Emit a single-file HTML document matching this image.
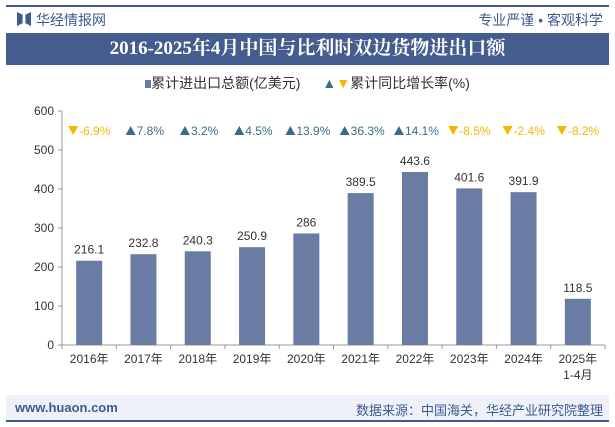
<!DOCTYPE html>
<html><head><meta charset="utf-8"><style>
body{margin:0;width:615px;height:427px;background:#fff;font-family:"Liberation Sans","Noto Sans CJK SC",sans-serif;overflow:hidden;position:relative}
.abs{position:absolute}
</style></head><body>
<div class="abs" style="left:6px;top:5px;width:603px;height:2px;background:#3f5a8e"></div>
<div class="abs" style="left:17px;top:12px;width:14px;height:14px;background:#3f5a8e;clip-path:polygon(0 0,40% 20%,40% 80%,0 100%,0 0,100% 0,100% 100%,60% 80%,60% 20%,100% 0)"></div>
<div class="abs" style="left:36px;top:10px;font-size:14px;color:#3f5a8e">华经情报网</div>
<div class="abs" style="right:12px;top:10px;font-size:14px;color:#3f5a8e">专业严谨 • 客观科学</div>
<div class="abs" style="left:6px;top:33px;width:603px;height:32px;background:#445c8e;color:#fff;font-family:'Liberation Serif','Noto Serif CJK SC',serif;font-weight:bold;font-size:19px;text-align:center;line-height:32px">2016-2025年4月中国与比利时双边货物进出口额</div>
<div class="abs" style="left:0;width:615px;top:73px;text-align:center;font-size:14px;color:#333">
<span><span style="display:inline-block;width:6px;height:8px;background:#6a7ca3"></span>累计进出口总额(亿美元)</span>
<span style="margin-left:18px"><span style="color:#3a6d8c">▲</span><span style="color:#f5b800">▼</span>累计同比增长率(%)</span></div>
<svg class="abs" style="left:0;top:0" width="615" height="427" id="chart"></svg>
<div class="abs" style="left:6px;top:395px;width:603px;height:26px;background:#eef1f7"></div>
<div class="abs" style="left:15px;top:400px;font-size:13px;color:#3f5a8e;font-weight:bold">www.huaon.com</div>
<div class="abs" style="right:12px;top:400px;font-size:13px;color:#3f5a8e">数据来源：中国海关，华经产业研究院整理</div>
<div class="abs" style="left:6px;top:420px;width:603px;height:2px;background:#3f5a8e"></div>
<script>
const categories=["2016年","2017年","2018年","2019年","2020年","2021年","2022年","2023年","2024年","2025年"];
const values=[216.1,232.8,240.3,250.9,286,389.5,443.6,401.6,391.9,118.5];
const valueLabels=["216.1","232.8","240.3","250.9","286","389.5","443.6","401.6","391.9","118.5"];
const growth=[-6.9,7.8,3.2,4.5,13.9,36.3,14.1,-8.5,-2.4,-8.2];
const yTicks=[0,100,200,300,400,500,600];
const svg=document.getElementById('chart');const NS='http://www.w3.org/2000/svg';
const x0=62,x1=605,yb=345,yt=111,ymax=600;
const band=(x1-x0)/categories.length;
const xc=i=>x0+band*(i+0.5);
const y=v=>yb-(v/ymax)*(yb-yt);
function mk(t,a,txt){const e=document.createElementNS(NS,t);for(const k in a)e.setAttribute(k,a[k]);if(txt!=null)e.textContent=txt;svg.appendChild(e);return e;}
let e=mk('line',{x1:x0,y1:yt,x2:x0,y2:yb,stroke:'#999'});

e=mk('line',{x1:x0,y1:yb,x2:x1,y2:yb,stroke:'#999'});

yTicks.forEach(t=>{
 let l=mk('line',{x1:x0-4,y1:y(t),x2:x0,y2:y(t),stroke:'#999'});
 
 let tx=mk('text',{x:x0-8,y:y(t)+4,'text-anchor':'end','font-size':12,fill:'#333'},t);
 
});
for(let i=0;i<=categories.length;i++){let l=mk('line',{x1:x0+band*i,y1:yb,x2:x0+band*i,y2:yb+4,stroke:'#999'});
 }
categories.forEach((c,i)=>{
 const cx=xc(i),bw=26;
 let r=mk('rect',{x:cx-bw/2,y:y(values[i]),width:bw,height:yb-y(values[i]),fill:'#6a7ca3'});
 
 let v=mk('text',{x:cx,y:y(values[i])-7,'text-anchor':'middle','font-size':12,fill:'#333'},valueLabels[i]);
 
 let xl=mk('text',{x:cx,y:yb+18,'text-anchor':'middle','font-size':12,fill:'#333'},c);
 
 if(i==categories.length-1){let s=mk('text',{x:cx,y:yb+34,'text-anchor':'middle','font-size':12,fill:'#333'},'1-4月');
  }
 const g=growth[i],up=g>=0,col=up?'#3a6d8c':'#f5b800';
 const txt=g.toFixed(1)+'%';
 const tw=txt.length*6.4,tri=10,sx=cx-(tw+tri)/2;
 let tr=mk('polygon',{points:up?`${sx},135 ${sx+tri},135 ${sx+tri/2},126`:`${sx},126 ${sx+tri},126 ${sx+tri/2},135`,fill:col});
 
 let gt=mk('text',{x:sx+tri+1,y:135,'text-anchor':'start','font-size':12,fill:col},txt);
 
});
</script>
</body></html>
